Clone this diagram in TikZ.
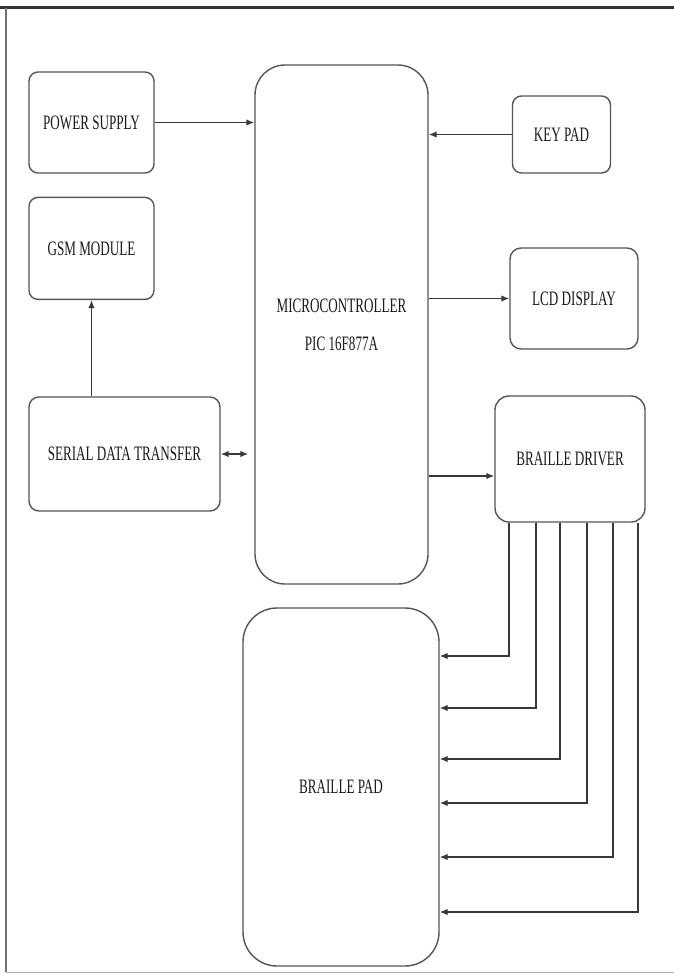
\documentclass[tikz,border=0pt]{standalone}
\usepackage{fontspec}
\setmainfont{Liberation Serif}[FakeStretch=0.64]
\usepackage{tikz}
\usetikzlibrary{positioning, arrows.meta}
\definecolor{edgegray}{HTML}{555555}
\definecolor{wiregray}{HTML}{383838}

\begin{document}
\begin{tikzpicture}[x=1pt, y=-1pt,
  main node/.style={draw=edgegray, line width=1.4pt, rounded corners=9pt, align=center,
    inner sep=0pt, text=black!90, font=\fontsize{20.5}{24}\selectfont},
  wire/.style={draw=wiregray, line width=1.4pt},
  arr/.style={wire, -{Latex[length=8pt,width=6.5pt]}}]

\useasboundingbox (0,0) rectangle (674,974);
\draw[line width=3pt, black!80] (0,8) -- (674,8);
\draw[line width=1.5pt, black!55] (6,8) -- (6,972);
\draw[line width=1pt, black!30] (6,972) -- (674,972);

\node[main node, minimum width=125pt, minimum height=101pt] (PS) at (91.5,122.5) {POWER SUPPLY};
\node[main node, minimum width=125pt, minimum height=102pt] (GSM) [below=23pt of PS] {GSM MODULE};
\node[main node, minimum width=191pt, minimum height=114pt, rounded corners=10pt] (SDT) at (124.5,454) {SERIAL DATA TRANSFER};
\node[main node, minimum width=173pt, minimum height=519pt, rounded corners=30pt] (MC) at (341.5,324.5) {MICROCONTROLLER\\[14pt]PIC 16F877A};
\node[main node, minimum width=98pt, minimum height=77pt] (KP) at (561.5,134.5) {KEY PAD};
\node[main node, minimum width=128pt, minimum height=101pt, rounded corners=11pt] (LCD) at (574,298.5) {LCD DISPLAY};
\node[main node, minimum width=150pt, minimum height=126pt, rounded corners=14pt] (BD) at (570,459) {BRAILLE DRIVER};
\node[main node, minimum width=196pt, minimum height=358pt, rounded corners=34pt] (BP) at (341,787) {BRAILLE PAD};

\draw[arr] (PS.east) -- (PS.east -| MC.west);
\draw[arr] (KP.west) -- (KP.west -| MC.east);
\draw[arr] (MC.east |- LCD.west) -- (LCD.west);
\draw[wire, {Latex[length=8pt,width=6.5pt]}-{Latex[length=8pt,width=6.5pt]}, shorten >=6pt] (SDT.east) -- (SDT.east -| MC.west);
\draw[arr] ([yshift=-17pt]BD.west -| MC.east) -- ([yshift=-17pt]BD.west);
\draw[arr] (SDT.north -| GSM.south) -- (GSM.south);

% driver outputs to the pad
\foreach \tx/\ty in {509/656, 536/708, 560/759, 587/803, 613/857, 638/912}
  \draw[arr] (BD.south -| \tx,0) |- (BP.east |- 0,\ty);

\end{tikzpicture}
\end{document}
